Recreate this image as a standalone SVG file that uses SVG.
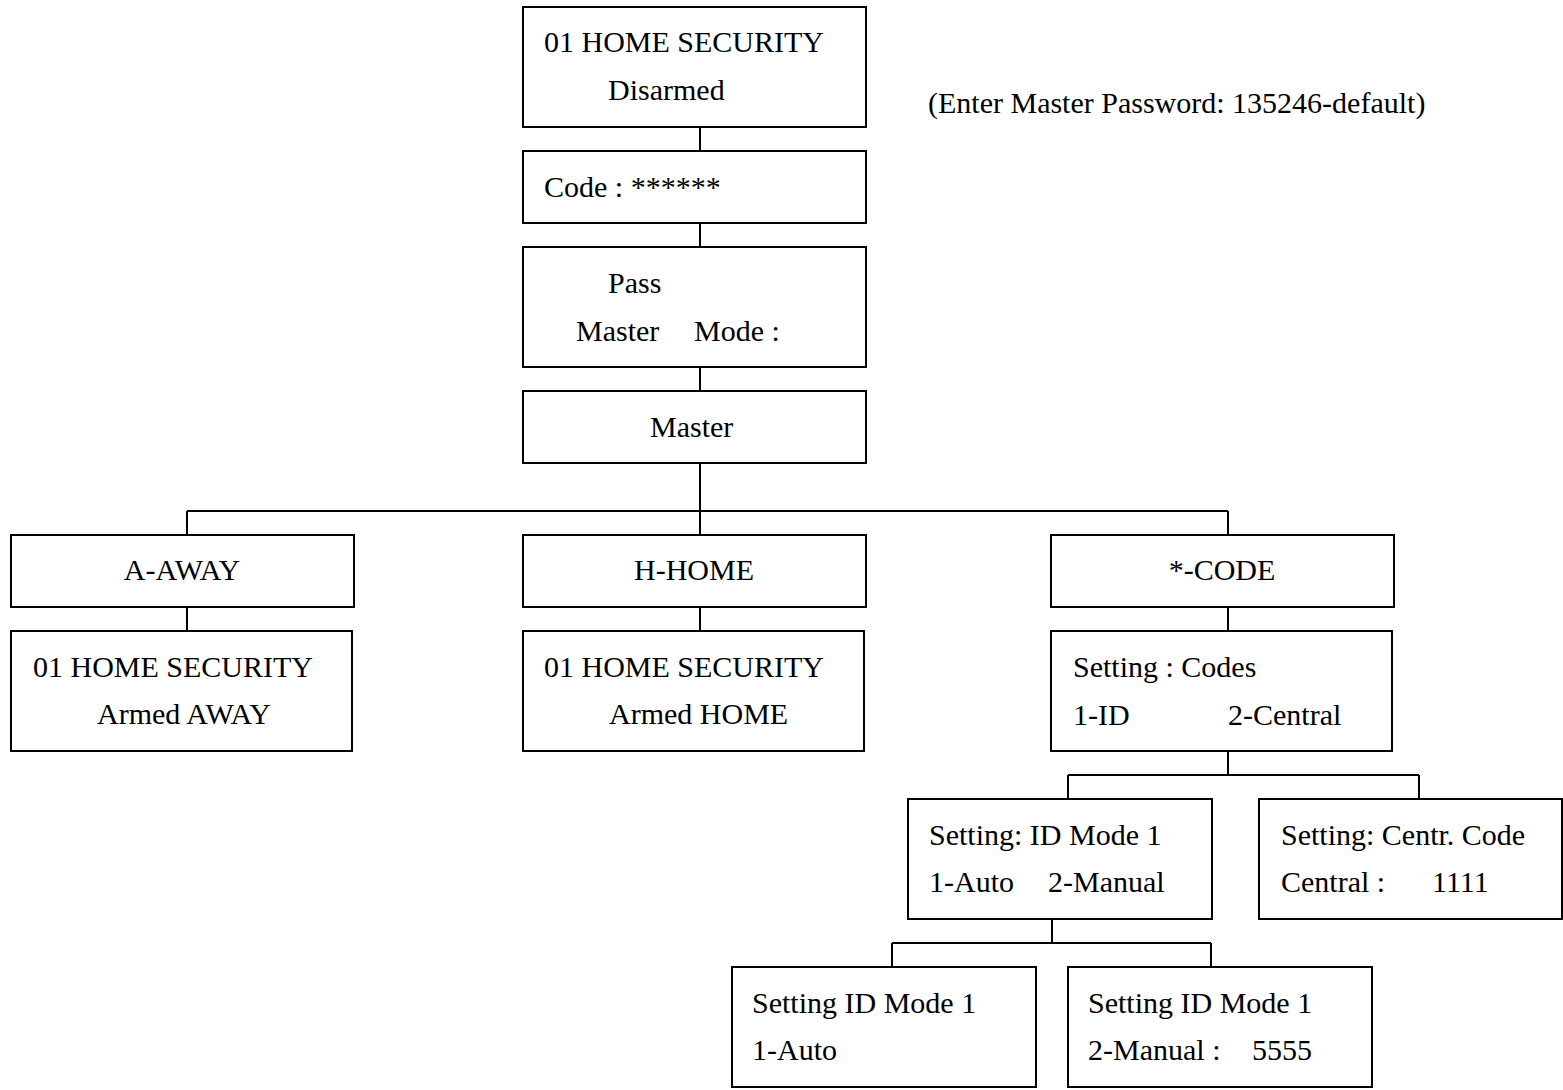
<svg xmlns="http://www.w3.org/2000/svg" width="1563" height="1090" viewBox="0 0 1563 1090">
<style>
rect{fill:#fff;stroke:#000;stroke-width:2}
text{font-family:"Liberation Serif","Times New Roman",serif;font-size:30px;fill:#000}
.c{stroke:#000;stroke-width:2;fill:none}
</style>
<rect x="0" y="0" width="1563" height="1090" style="stroke:none"/>
<g id="connectors">
<path class="c" d="M700 127V151M700 223V247M700 367V391M700 463V535M187 511H1228M187 511V535M1228 511V535M187 607V631M700 607V631M1228 607V631M1228 751V775M1068 775H1419M1068 775V799M1419 775V799M1052 919V943M892 943H1211M892 943V967M1211 943V967"/>
</g>
<g id="n-home"><rect x="523" y="7" width="343" height="120"/><text x="544" y="52">01 HOME SECURITY</text><text x="608" y="100">Disarmed</text></g>
<g id="n-code"><rect x="523" y="151" width="343" height="72"/><text x="544" y="197">Code : ******</text></g>
<g id="n-pass"><rect x="523" y="247" width="343" height="120"/><text x="608" y="293">Pass</text><text x="576" y="341">Master</text><text x="694" y="341">Mode :</text></g>
<g id="n-master"><rect x="523" y="391" width="343" height="72"/><text x="650" y="437">Master</text></g>
<g id="n-away"><rect x="11" y="535" width="343" height="72"/><text x="182" y="580" text-anchor="middle">A-AWAY</text></g>
<g id="n-home2"><rect x="523" y="535" width="343" height="72"/><text x="694" y="580" text-anchor="middle">H-HOME</text></g>
<g id="n-starcode"><rect x="1051" y="535" width="343" height="72"/><text x="1222" y="580" text-anchor="middle">*-CODE</text></g>
<g id="n-armedaway"><rect x="11" y="631" width="341" height="120"/><text x="33" y="677">01 HOME SECURITY</text><text x="97" y="724">Armed AWAY</text></g>
<g id="n-armedhome"><rect x="523" y="631" width="341" height="120"/><text x="544" y="677">01 HOME SECURITY</text><text x="609" y="724">Armed HOME</text></g>
<g id="n-settingcodes"><rect x="1051" y="631" width="341" height="120"/><text x="1073" y="677">Setting : Codes</text><text x="1073" y="725">1-ID</text><text x="1228" y="725">2-Central</text></g>
<g id="n-idmode"><rect x="908" y="799" width="304" height="120"/><text x="929" y="845">Setting: ID Mode 1</text><text x="929" y="892">1-Auto</text><text x="1048" y="892">2-Manual</text></g>
<g id="n-central"><rect x="1259" y="799" width="303" height="120"/><text x="1281" y="845">Setting: Centr. Code</text><text x="1281" y="892">Central :</text><text x="1432" y="892">1111</text></g>
<g id="n-auto"><rect x="732" y="967" width="304" height="120"/><text x="752" y="1013">Setting ID Mode 1</text><text x="752" y="1060">1-Auto</text></g>
<g id="n-manual"><rect x="1068" y="967" width="304" height="120"/><text x="1088" y="1013">Setting ID Mode 1</text><text x="1088" y="1060">2-Manual :</text><text x="1252" y="1060">5555</text></g>
<g id="note"><text x="928" y="113">(Enter Master Password: 135246-default)</text></g>
</svg>
